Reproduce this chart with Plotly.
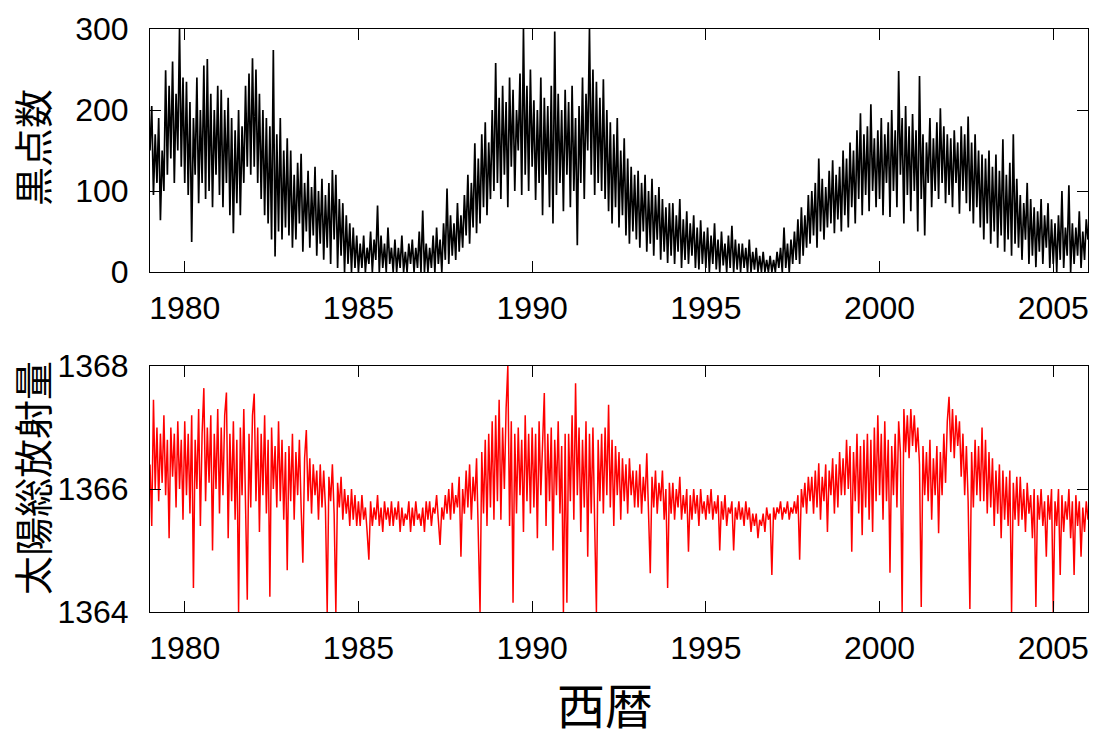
import plotly.graph_objects as go

# ---------------- data (20 samples per year) ----------------
start_year = 1979.0
samples_per_year = 20

sunspot_number = [
    150, 205, 95, 170, 110, 190, 64, 150, 100, 249, 120, 230, 140, 260, 110, 220, 150, 300, 130, 240,      # 1979
    110, 235, 95, 210, 37, 190, 120, 240, 85, 200, 110, 255, 90, 263, 100, 220, 80, 200, 120, 230,         # 1980
    95, 225, 80, 200, 110, 215, 70, 190, 48, 175, 85, 200, 70, 180, 110, 230, 130, 245, 120, 264,          # 1981
    130, 250, 110, 220, 90, 200, 70, 190, 60, 180, 40, 274, 19, 170, 50, 190, 40, 150, 55, 165,            # 1982
    45, 150, 30, 120, 40, 135, 60, 146, 25, 110, 50, 125, 30, 105, 45, 130, 20, 100, 35, 115,              # 1983
    15, 95, 30, 110, 10, 126, 40, 120, 5, 90, 20, 85, 0, 70, 10, 60, 0, 55, 5, 45,                         # 1984
    0, 35, 5, 45, 0, 30, 10, 50, 0, 40, 15, 82, 0, 45, 5, 35, 0, 55, 10, 30,                               # 1985
    0, 40, 0, 30, 5, 45, 0, 25, 0, 35, 10, 40, 0, 30, 5, 50, 0, 76, 0, 35,                                 # 1986
    0, 30, 5, 45, 0, 55, 10, 40, 0, 60, 15, 103, 10, 70, 20, 60, 15, 85, 25, 70,                           # 1987
    30, 95, 45, 120, 35, 110, 55, 159, 48, 140, 60, 170, 80, 185, 70, 160, 90, 200, 100, 258,              # 1988
    110, 215, 90, 230, 120, 210, 80, 240, 130, 225, 100, 200, 150, 245, 95, 300, 120, 230, 100, 250,       # 1989
    130, 212, 89, 200, 110, 240, 70, 215, 120, 205, 80, 230, 60, 297, 95, 220, 110, 200, 75, 225,          # 1990
    120, 210, 80, 230, 100, 190, 33, 205, 110, 240, 90, 220, 150, 300, 120, 250, 95, 235, 110, 215,        # 1991
    100, 238, 90, 200, 75, 185, 60, 170, 80, 190, 55, 150, 70, 165, 45, 140, 35, 130, 50, 120,             # 1992
    40, 125, 30, 110, 50, 120, 25, 100, 35, 115, 20, 95, 40, 105, 15, 90, 25, 80, 11, 85,                  # 1993
    20, 85, 10, 70, 25, 90, 5, 65, 15, 75, 10, 60, 20, 70, 5, 55, 3, 64, 10, 50,                           # 1994
    5, 55, 0, 45, 10, 60, 3, 40, 0, 50, 8, 35, 0, 45, 5, 57, 0, 40, 3, 35,                                 # 1995
    0, 35, 5, 30, 0, 40, 0, 25, 3, 30, 0, 20, 0, 25, 0, 15, 0, 20, 0, 15,                                  # 1996
    0, 25, 5, 30, 0, 55, 5, 35, 0, 40, 10, 50, 15, 65, 10, 80, 20, 70, 30, 95,                             # 1997
    35, 100, 45, 110, 30, 140, 50, 115, 40, 105, 55, 125, 60, 138, 48, 120, 65, 130, 50, 150,              # 1998
    70, 140, 55, 160, 80, 150, 60, 175, 90, 196, 70, 170, 95, 180, 75, 207, 100, 165, 80, 175,             # 1999
    90, 190, 70, 170, 110, 185, 68, 200, 100, 175, 80, 248, 120, 190, 60, 205, 95, 180, 75, 195,           # 2000
    100, 175, 50, 242, 90, 170, 45, 160, 110, 190, 80, 165, 100, 185, 90, 202, 110, 180, 85, 170,          # 2001
    95, 165, 80, 175, 110, 160, 72, 180, 100, 170, 85, 192, 75, 160, 60, 170, 80, 150, 55, 145,            # 2002
    40, 140, 60, 150, 35, 130, 50, 145, 30, 125, 45, 164, 25, 120, 40, 135, 20, 170, 35, 115,              # 2003
    30, 95, 15, 85, 40, 110, 10, 90, 20, 80, 6, 75, 25, 90, 10, 70, 30, 85, 5, 65,                         # 2004
    10, 60, 0, 70, 15, 100, 5, 55, 20, 107, 0, 60, 10, 55, 20, 75, 5, 50, 15, 65,                          # 2005
    40,                                                                                                    # 2006.0
]

total_solar_irradiance = [
    1366.4, 1365.4, 1367.45, 1366.0, 1367.0, 1365.8, 1366.9, 1366.1, 1367.2, 1365.9, 1366.8, 1365.2, 1367.0, 1366.2, 1366.9, 1365.7, 1367.1, 1366.0, 1366.8, 1365.5,  # 1979
    1367.1, 1365.9, 1366.9, 1365.6, 1367.2, 1364.39, 1366.8, 1366.0, 1367.3, 1365.4, 1366.9, 1367.64, 1365.8, 1367.0, 1366.1, 1367.2, 1365.0, 1366.9, 1366.0, 1367.3,  # 1980
    1365.6, 1367.0, 1365.9, 1367.2, 1367.57, 1365.2, 1366.9, 1365.8, 1367.1, 1365.5, 1366.8, 1364.0, 1367.0, 1365.9, 1367.3, 1365.4, 1364.2, 1366.9, 1365.7, 1367.2,  # 1981
    1367.55, 1365.8, 1367.0, 1365.3, 1366.9, 1365.9, 1367.2, 1365.6, 1366.8, 1364.25, 1367.0, 1366.0, 1366.7, 1365.7, 1367.1, 1365.8, 1366.8, 1365.5, 1366.6, 1364.68,  # 1982
    1366.7, 1365.8, 1366.9, 1365.5, 1366.6, 1365.9, 1366.8, 1365.7, 1364.8, 1366.5, 1366.96, 1365.8, 1366.5, 1365.6, 1366.4, 1365.9, 1366.3, 1365.5, 1366.4, 1365.7,  # 1983
    1366.3, 1365.7, 1364.0, 1366.2, 1365.8, 1366.4, 1365.6, 1364.0, 1366.1, 1365.7, 1366.2, 1365.5, 1366.0, 1365.6, 1365.9, 1365.4, 1366.0, 1365.5, 1365.9, 1365.4,  # 1984
    1365.8, 1365.4, 1365.9, 1365.5, 1365.7, 1365.3, 1364.85, 1365.8, 1365.4, 1365.7, 1365.5, 1365.9, 1365.4, 1365.7, 1365.3, 1365.8, 1365.5, 1365.7, 1365.4, 1365.8,  # 1985
    1365.4, 1365.7, 1365.5, 1365.8, 1365.3, 1365.7, 1365.4, 1365.6, 1365.5, 1365.8, 1365.3, 1365.7, 1365.4, 1365.8, 1365.5, 1365.6, 1365.4, 1365.7, 1365.3, 1365.8,  # 1986
    1365.5, 1365.8, 1365.4, 1365.7, 1365.6, 1365.9, 1365.4, 1365.09, 1365.7, 1365.5, 1365.9, 1365.6, 1366.0, 1365.5, 1366.1, 1365.6, 1365.9, 1365.7, 1366.2, 1364.9,  # 1987
    1366.0, 1365.6, 1366.3, 1365.7, 1366.4, 1365.5, 1366.2, 1365.8, 1366.5, 1365.3, 1364.0, 1366.6, 1365.6, 1366.8, 1365.4, 1366.9, 1365.7, 1367.1, 1365.5, 1367.2,  # 1988
    1365.8, 1367.45, 1365.5, 1367.0, 1366.0, 1367.3, 1368.0, 1365.4, 1367.1, 1364.15, 1366.9, 1365.6, 1367.0, 1365.9, 1366.8, 1365.3, 1367.2, 1365.8, 1366.9, 1365.6,  # 1989
    1367.0, 1365.7, 1366.9, 1365.2, 1367.1, 1365.9, 1366.8, 1367.56, 1365.4, 1366.9, 1365.8, 1367.0, 1365.0, 1366.8, 1365.9, 1367.1, 1365.6, 1366.7, 1364.0, 1366.9,  # 1990
    1364.15, 1366.9, 1365.8, 1367.2, 1365.5, 1367.72, 1365.9, 1367.0, 1365.3, 1366.8, 1365.7, 1367.1, 1364.9, 1366.9, 1365.6, 1367.0, 1365.4, 1364.0, 1366.8, 1365.8,  # 1991
    1366.9, 1365.6, 1367.0, 1365.9, 1367.37, 1365.7, 1366.8, 1365.4, 1366.7, 1365.9, 1366.6, 1365.5, 1366.5, 1365.8, 1366.4, 1365.6, 1366.5, 1365.9, 1366.3, 1365.7,  # 1992
    1366.3, 1365.7, 1366.4, 1365.6, 1366.2, 1365.8, 1366.58, 1365.5, 1364.63, 1366.2, 1365.7, 1366.3, 1365.6, 1366.1, 1365.8, 1366.3, 1365.5, 1366.0, 1364.39, 1366.1,  # 1993
    1365.6, 1366.1, 1365.5, 1366.0, 1365.7, 1366.2, 1365.5, 1365.9, 1365.6, 1366.0, 1364.98, 1365.9, 1365.5, 1366.0, 1365.6, 1365.9, 1365.4, 1366.0, 1365.6, 1365.8,  # 1994
    1365.5, 1365.9, 1365.6, 1366.0, 1365.5, 1365.8, 1365.6, 1365.9, 1365.0, 1365.8, 1365.5, 1365.9, 1365.4, 1365.7, 1365.6, 1365.8, 1365.0, 1365.7, 1365.5, 1365.8,  # 1995
    1365.5, 1365.7, 1365.4, 1365.8, 1365.5, 1365.7, 1365.3, 1365.6, 1365.4, 1365.6, 1365.2, 1365.5, 1365.4, 1365.6, 1365.3, 1365.7, 1365.5, 1365.6, 1364.6, 1365.7,  # 1996
    1365.5, 1365.7, 1365.6, 1365.8, 1365.5, 1365.7, 1365.6, 1365.8, 1365.5, 1365.7, 1365.6, 1365.8, 1365.6, 1365.9, 1364.85, 1366.0, 1365.7, 1366.1, 1365.6, 1366.2,  # 1997
    1365.8, 1366.2, 1365.6, 1366.3, 1365.7, 1366.42, 1365.5, 1366.2, 1365.8, 1366.4, 1365.3, 1366.3, 1365.9, 1366.5, 1365.6, 1366.4, 1365.7, 1366.6, 1365.9, 1366.5,  # 1998
    1365.9, 1366.8, 1366.0, 1366.7, 1364.98, 1366.6, 1365.8, 1366.9, 1365.6, 1366.7, 1365.25, 1366.8, 1365.7, 1366.9, 1365.5, 1366.8, 1365.3, 1367.0, 1365.8, 1367.2,  # 1999
    1365.9, 1366.9, 1365.5, 1367.1, 1365.8, 1366.8, 1364.64, 1366.7, 1365.9, 1366.9, 1365.7, 1367.1, 1366.6, 1364.0, 1367.3, 1366.6, 1367.2, 1366.5, 1367.3, 1366.7,  # 2000
    1367.2, 1366.6, 1367.0, 1366.4, 1364.08, 1366.7, 1365.9, 1366.6, 1365.8, 1366.8, 1365.5, 1366.5, 1365.9, 1366.7, 1365.28, 1366.6, 1365.9, 1366.9, 1366.1, 1367.1,  # 2001
    1367.5, 1366.6, 1367.3, 1366.5, 1367.2, 1366.7, 1367.1, 1366.2, 1366.9, 1365.9, 1366.7, 1365.8, 1364.05, 1366.6, 1365.7, 1366.8, 1365.9, 1366.7, 1365.8, 1367.0,  # 2002
    1365.8, 1366.8, 1365.6, 1366.6, 1365.7, 1366.5, 1365.4, 1366.3, 1365.6, 1366.4, 1365.2, 1366.3, 1365.5, 1366.2, 1365.4, 1366.3, 1364.0, 1366.1, 1365.5, 1366.2,  # 2003
    1365.4, 1366.2, 1365.5, 1366.0, 1365.3, 1366.1, 1365.6, 1365.9, 1365.2, 1366.0, 1364.08, 1365.9, 1365.5, 1366.0, 1365.4, 1365.8, 1364.9, 1365.9, 1365.5, 1366.0,  # 2004
    1364.0, 1365.8, 1365.4, 1366.0, 1364.6, 1365.9, 1365.3, 1365.8, 1365.5, 1366.0, 1365.2, 1365.8, 1364.6, 1365.9, 1365.4, 1365.8, 1364.9, 1365.7, 1365.3, 1365.8,  # 2005
    1365.5,                                                                                                                                                              # 2006.0
]

tick_years = [1980, 1985, 1990, 1995, 2000, 2005]
ssn_ticks = [0, 100, 200, 300]
tsi_ticks = [1364, 1366, 1368]

ylabel_top = "黒点数"
ylabel_bottom = "太陽総放射量"
xlabel = "西暦"

# time coordinates of the samples
t_ssn = [start_year + i / samples_per_year for i in range(len(sunspot_number))]
t_tsi = [start_year + i / samples_per_year for i in range(len(total_solar_irradiance))]

# ---------------- figure ----------------
W, H = 1101, 740
NUM_FONT = "Liberation Sans, Arial, sans-serif"
CJK_FONT = "Noto Sans CJK JP, sans-serif"

fig = go.Figure()
fig.add_trace(go.Scatter(x=t_ssn, y=sunspot_number, mode="lines",
                         line=dict(color="black", width=1.7), xaxis="x", yaxis="y",
                         showlegend=False, hoverinfo="skip"))
fig.add_trace(go.Scatter(x=t_tsi, y=total_solar_irradiance, mode="lines",
                         line=dict(color="#ff0000", width=1.5), xaxis="x2", yaxis="y2",
                         showlegend=False, hoverinfo="skip"))

x0, x1 = 150 / W, 1088 / W
top_dom = [(H - 272) / H, (H - 29) / H]
bot_dom = [(H - 612) / H, (H - 366) / H]

xcommon = dict(range=[1979.0, 2006.0], tickvals=tick_years, ticks="inside", ticklen=11,
               tickwidth=1, tickcolor="black", showline=True, linecolor="black", linewidth=1,
               mirror="allticks", showgrid=False, zeroline=False, automargin=False,
               tickfont=dict(family=NUM_FONT, size=32, color="black"),
               ticklabelstandoff=8, domain=[x0, x1])
ycommon = dict(ticks="inside", ticklen=11, tickwidth=1, tickcolor="black", showline=True,
               linecolor="black", linewidth=1, mirror="allticks", showgrid=False,
               zeroline=False, automargin=False,
               tickfont=dict(family=NUM_FONT, size=32, color="black"),
               ticklabelstandoff=14)

fig.update_layout(
    width=W, height=H,
    margin=dict(l=0, r=0, t=0, b=0),
    paper_bgcolor="white", plot_bgcolor="white",
    xaxis=dict(xcommon, anchor="y"),
    yaxis=dict(ycommon, domain=top_dom, range=[0, 300], tickvals=ssn_ticks, anchor="x"),
    xaxis2=dict(xcommon, anchor="y2"),
    yaxis2=dict(ycommon, domain=bot_dom, range=[1364, 1368], tickvals=tsi_ticks, anchor="x2"),
    annotations=[
        dict(text=ylabel_top, x=31 / W, y=(H - 148) / H, xref="paper", yref="paper",
             textangle=-90, showarrow=False, xanchor="center", yanchor="middle",
             font=dict(family=CJK_FONT, size=39, color="black")),
        dict(text=ylabel_bottom, x=31 / W, y=(H - 478) / H, xref="paper", yref="paper",
             textangle=-90, showarrow=False, xanchor="center", yanchor="middle",
             font=dict(family=CJK_FONT, size=39, color="black")),
        dict(text=xlabel, x=605 / W, y=0, xref="paper", yref="paper",
             showarrow=False, xanchor="center", yanchor="bottom",
             font=dict(family=CJK_FONT, size=48, color="black")),
    ],
)

# the page's default 8px body margin would shift the figure; remove it
fig.write_html("out.html", config={"displayModeBar": False},
               post_script="document.body.style.margin='0';document.body.style.overflow='hidden';")
